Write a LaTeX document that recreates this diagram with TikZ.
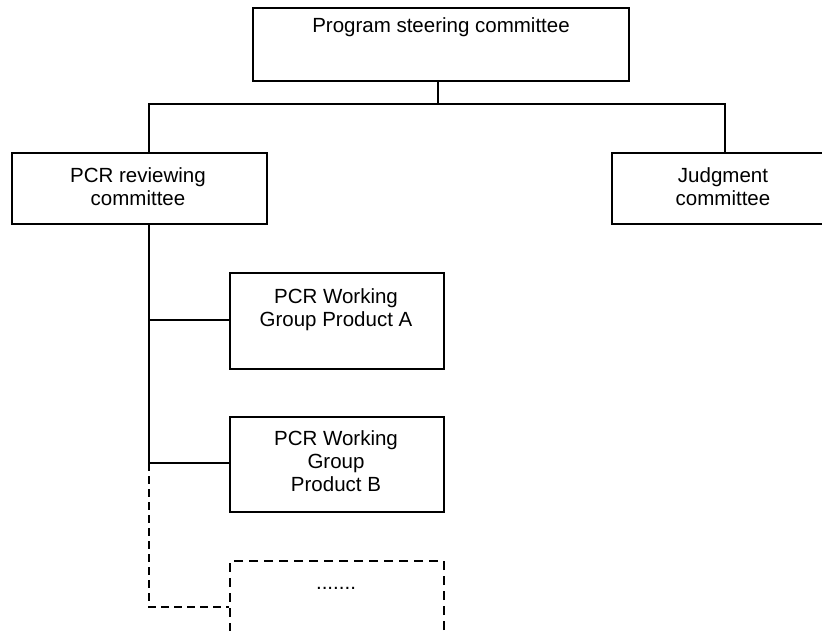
\documentclass[tikz,border=0pt]{standalone}
\usepackage{fontspec}
\setmainfont{Liberation Sans}
\begin{document}
\begin{tikzpicture}[x=1pt,y=-1pt,
  line width=2pt,
  box/.style={draw=black, line width=2pt, inner sep=0pt, anchor=north west},
  txt/.style={font=\fontsize{20.5pt}{23pt}\selectfont, align=center, inner sep=0pt, anchor=base},
  link/.style={draw=black, line width=2pt},
  dlink/.style={draw=black, line width=2pt, dash pattern=on 8pt off 5pt}]
\useasboundingbox (0,0) rectangle (822,630);
\clip (0,0) rectangle (822,630);

% boxes
\node[box, minimum width=376pt, minimum height=73pt] (psc) at (252,7) {};
\node[box, minimum width=255pt, minimum height=71pt] (rev) at (11,152) {};
\node[box, minimum width=224pt, minimum height=71pt] (jud) at (611,152) {};
\node[box, minimum width=214pt, minimum height=96pt] (wga) at (229,272) {};
\node[box, minimum width=214pt, minimum height=95pt] (wgb) at (229,416) {};
\node[box, dash pattern=on 9pt off 6pt, minimum width=214pt, minimum height=95pt] (wgc) at (229,560) {};

% labels (anchored at the baseline of their last line)
\node[txt] (tpsc) at (441,32) {Program steering committee};
\node[txt] (trev) at (138,205) {PCR reviewing\\committee};
\node[txt] (tjud) at (723,205) {Judgment\\committee};
\node[txt] (twga) at (336,326) {PCR Working\\Group Product A};
\node[txt] (twgb) at (336,491) {PCR Working\\Group\\Product B};
\node[txt] (twgc) at (336,589) {.......};

% junction points
\coordinate (top) at (psc.south -| 438,0);
\coordinate (bar) at (438,104);
\coordinate (barL) at (149,104);
\coordinate (barR) at (725,104);
\coordinate (spA) at (149,320);
\coordinate (spB) at (149,463);
\coordinate (spC) at (149,607);

% tree connectors
\draw[link] (top) -- (bar);
\draw[link] (rev.north -| barL) -- (barL) -- (barR) -- (jud.north -| barR);
\draw[link] (rev.south -| spA) -- (spB);
\draw[link] (spA) -- (wga.west |- spA);
\draw[link] (spB) -- (wgb.west |- spB);
\draw[dlink] (spB) -- (spC) -- (wgc.west |- spC);
\end{tikzpicture}
\end{document}
